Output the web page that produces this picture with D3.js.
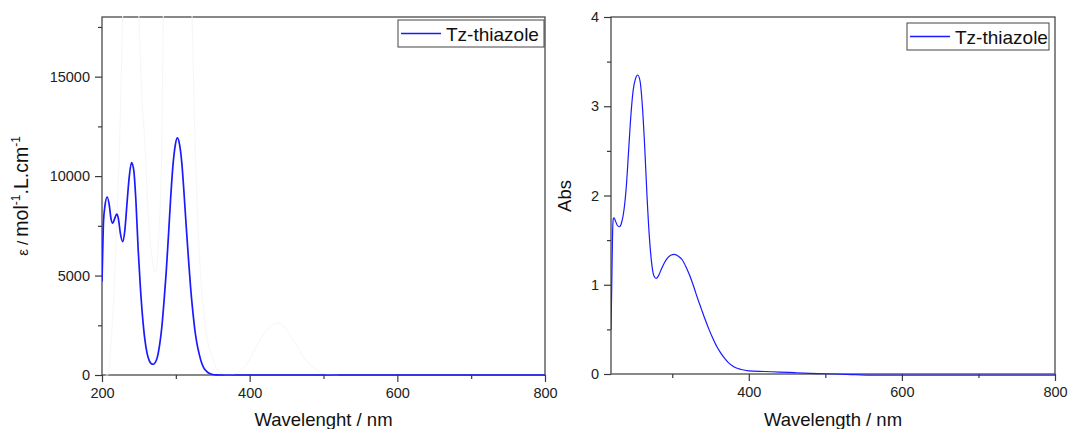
<!DOCTYPE html>
<html>
<head>
<meta charset="utf-8">
<script src="https://cdn.jsdelivr.net/npm/d3@7"></script>
<style>
  html, body { margin: 0; padding: 0; background: #ffffff; }
  svg { display: block; font-family: "Liberation Sans", Arial, sans-serif; }
</style>
</head>
<body>
<svg id="chart" width="1069" height="429"></svg>
<script>
// ---------- DATA ----------
// Left panel: molar absorption coefficient (ε) vs wavelength
const leftWavelength = [200,201,202,204,207,210,212,214.5,217,220,222,225,228,231,234,237,240,243,246,249,252,255,258,261,264,267,269.5,272,275,278,281,284,287,290,293,296,299,302,305,308,311,314,317,320,323,326,329,332,335,338,342,346,350,355,360,400,500,600,700,800];
const leftEpsilon    = [4700,6300,7700,8500,8950,8500,7900,7630,7850,8090,7900,7100,6700,7300,8700,10000,10680,10300,8700,6300,4400,2900,1800,1100,720,560,540,620,900,1500,2400,3700,5200,7000,8900,10500,11500,11920,11600,10700,9200,7500,5900,4400,3200,2200,1500,1000,600,350,170,70,25,5,0,0,0,0,0,0];

// Left panel: very faint background trace
const ghostWavelength = [205,208,212,216,220,224,228,232,240,246,250,254,258,262,266,270,272,274,277,281,283,290,300,315,322,326,332,340,350,360,370,380,390,400,410,420,430,438,445,455,465,475,485,495,505,520];
const ghostEpsilon    = [0,0,1500,4000,7500,12000,18000,23000,26000,22000,18000,14000,11700,8500,6500,5400,5200,5400,7000,11700,18000,26000,30000,26000,18000,11700,6000,2500,800,150,0,50,300,800,1500,2100,2500,2620,2500,2000,1400,800,400,150,30,0];

// Right panel: absorbance vs wavelength
const rightWavelength = [220,221,222,223,224,226,228,231,234,237,240,243,246,249,252,255,258,261,264,267,270,273,276,279,282,286,290,294,298,303,308,313,318,323,328,333,338,343,348,353,358,363,368,373,378,383,390,400,420,440,460,480,500,520,540,560,600,700,800];
const rightAbs        = [0.5,1.0,1.55,1.74,1.75,1.71,1.67,1.65,1.70,1.84,2.1,2.5,2.9,3.18,3.31,3.35,3.28,3.0,2.55,2.0,1.55,1.25,1.1,1.07,1.1,1.18,1.25,1.3,1.33,1.34,1.32,1.28,1.2,1.1,0.98,0.85,0.73,0.61,0.5,0.4,0.31,0.24,0.18,0.13,0.095,0.07,0.05,0.035,0.028,0.022,0.015,0.008,0.003,-0.003,-0.008,-0.012,-0.012,-0.012,-0.012];

// Ticks
const leftXTicks = [200,400,600,800];
const leftXMinor = [300,500,700];
const leftYTicks = [0,5000,10000,15000];
const leftYMinor = [2500,7500,12500,17500];
const rightXTicks = [400,600,800];
const rightXMinor = [300,500,700];
const rightYTicks = [0,1,2,3,4];
const rightYMinor = [0.5,1.5,2.5,3.5];

const seriesName = "Tz-thiazole";
const leftXTitle = "Wavelenght / nm";
const rightXTitle = "Wavelength / nm";
const rightYTitle = "Abs";

// ---------- DRAW ----------
const svg = d3.select("#chart");
const axisColor = "#3a3a3a";
const lineColor = "#1a1aff";

function panel(cfg) {
  const g = svg.append("g");
  const x = d3.scaleLinear().domain(cfg.xDomain).range([cfg.left, cfg.right]);
  const y = d3.scaleLinear().domain(cfg.yDomain).range([cfg.bottom, cfg.top]);

  const clipId = "clip" + cfg.id;
  svg.append("defs").append("clipPath").attr("id", clipId)
    .append("rect").attr("x", cfg.left).attr("y", cfg.top - 1)
    .attr("width", cfg.right - cfg.left).attr("height", cfg.bottom - cfg.top + 3);

  // frame
  g.append("rect").attr("x", cfg.left).attr("y", cfg.top)
    .attr("width", cfg.right - cfg.left).attr("height", cfg.bottom - cfg.top)
    .attr("fill", "none").attr("stroke", axisColor).attr("stroke-width", 1.2);

  // axes
  const xAxis = g.append("g").attr("transform", `translate(0,${cfg.bottom})`)
    .call(d3.axisBottom(x).tickValues(cfg.xTicks).tickSize(7).tickPadding(6).tickFormat(d3.format("d")));
  const xMinor = g.append("g").attr("transform", `translate(0,${cfg.bottom})`)
    .call(d3.axisBottom(x).tickValues(cfg.xMinor).tickSize(4).tickFormat(""));
  const yAxis = g.append("g").attr("transform", `translate(${cfg.left},0)`)
    .call(d3.axisLeft(y).tickValues(cfg.yTicks).tickSize(7).tickPadding(5).tickFormat(d3.format("d")));
  const yMinor = g.append("g").attr("transform", `translate(${cfg.left},0)`)
    .call(d3.axisLeft(y).tickValues(cfg.yMinor).tickSize(4).tickFormat(""));
  [xAxis, xMinor, yAxis, yMinor].forEach(a => {
    a.select(".domain").remove();
    a.selectAll(".tick line").attr("stroke", axisColor).attr("stroke-width", 1.2);
    a.selectAll(".tick text").attr("fill", "#222").style("font-size", "14.5px")
      .style("font-family", '"Liberation Sans", Arial, sans-serif');
  });

  const line = d3.line().x(d => x(d[0])).y(d => y(d[1])).curve(d3.curveMonotoneX);

  if (cfg.ghost) {
    g.append("path").datum(d3.zip(cfg.ghost.x, cfg.ghost.y))
      .attr("clip-path", `url(#${clipId})`)
      .attr("fill", "none").attr("stroke", "#f6f6f6").attr("stroke-width", 1)
      .attr("d", line);
  }

  g.append("path").datum(d3.zip(cfg.xs, cfg.ys))
    .attr("clip-path", `url(#${clipId})`)
    .attr("fill", "none").attr("stroke", lineColor).attr("stroke-width", cfg.lw)
    .attr("d", line);

  // legend
  const L = cfg.legend;
  g.append("rect").attr("x", L.x).attr("y", L.y).attr("width", L.w).attr("height", L.h)
    .attr("fill", "#fff").attr("stroke", "#444").attr("stroke-width", 1);
  g.append("line").attr("x1", L.x + 3).attr("x2", L.x + 43)
    .attr("y1", L.y + L.h / 2).attr("y2", L.y + L.h / 2)
    .attr("stroke", lineColor).attr("stroke-width", 1.3);
  g.append("text").attr("x", L.x + 48).attr("y", L.y + L.h / 2 + 7)
    .attr("fill", "#111").style("font-size", "19px").text(seriesName);

  // x title
  g.append("text").attr("x", (cfg.left + cfg.right) / 2).attr("y", 426)
    .attr("text-anchor", "middle").attr("fill", "#111").style("font-size", "18.5px")
    .text(cfg.xTitle);
  return {x, y, g};
}

const P1 = panel({
  id: 1, left: 102, right: 545, top: 17, bottom: 375,
  xDomain: [200, 800], yDomain: [0, 18000],
  xTicks: leftXTicks, xMinor: leftXMinor, yTicks: leftYTicks, yMinor: leftYMinor,
  xs: leftWavelength, ys: leftEpsilon, lw: 1.7,
  ghost: {x: ghostWavelength, y: ghostEpsilon},
  legend: {x: 398, y: 20, w: 146, h: 27},
  xTitle: leftXTitle
});

const P2 = panel({
  id: 2, left: 611, right: 1055, top: 17, bottom: 374,
  xDomain: [220, 800], yDomain: [0, 4],
  xTicks: rightXTicks, xMinor: rightXMinor, yTicks: rightYTicks, yMinor: rightYMinor,
  xs: rightWavelength, ys: rightAbs, lw: 1.2,
  legend: {x: 907, y: 23, w: 142, h: 27},
  xTitle: rightXTitle
});

// y titles
const yt1 = P1.g.append("text")
  .attr("transform", "translate(28,196) rotate(-90)")
  .attr("text-anchor", "middle").attr("fill", "#111").style("font-size", "19.5px");
yt1.append("tspan").style("font-size", "15px").text("ε / ");
yt1.append("tspan").text("mol");
yt1.append("tspan").attr("dy", -8).style("font-size", "12px").text("-1");
yt1.append("tspan").attr("dy", 8).text(".L.cm");
yt1.append("tspan").attr("dy", -8).style("font-size", "12px").text("-1");

P2.g.append("text")
  .attr("transform", "translate(571,196) rotate(-90)")
  .attr("text-anchor", "middle").attr("fill", "#111").style("font-size", "18.5px")
  .text(rightYTitle);
</script>
</body>
</html>
